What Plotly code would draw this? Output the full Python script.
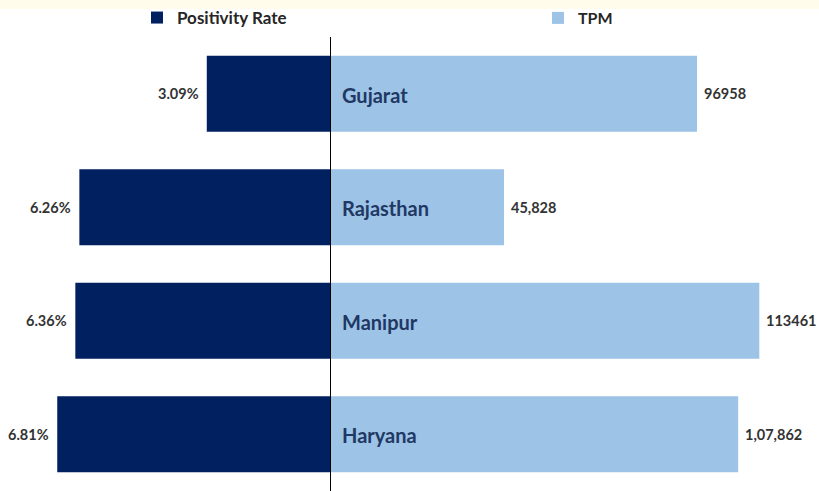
import plotly.graph_objects as go

states = ["Gujarat", "Rajasthan", "Manipur", "Haryana"]
positivity = [3.09, 6.26, 6.36, 6.81]
positivity_labels = ["3.09%", "6.26%", "6.36%", "6.81%"]
tpm = [96958, 45828, 113461, 107862]
tpm_labels = ["96958", "45,828", "113461", "1,07,862"]

W, H = 819, 491
TOP = 37
PH = H - TOP
split = 331 / W

fig = go.Figure()
fig.add_trace(go.Bar(
    y=states, x=positivity, orientation="h", xaxis="x", yaxis="y",
    name="Positivity Rate", marker=dict(color="#002060", line=dict(width=0)),
    width=0.67, hoverinfo="skip", legend="legend",
))
fig.add_trace(go.Bar(
    y=states, x=tpm, orientation="h", xaxis="x2", yaxis="y2",
    name="TPM", marker=dict(color="#9DC3E6", line=dict(width=0)),
    width=0.67, hoverinfo="skip", legend="legend2",
))

val_font = dict(family="Lato", size=14.5, color="#333333", weight="bold")
for s, v, t in zip(states, positivity, positivity_labels):
    fig.add_annotation(x=v, y=s, xref="x", yref="y", text=t, showarrow=False,
                       xanchor="right", xshift=-6, font=val_font)
for s, v, t in zip(states, tpm, tpm_labels):
    fig.add_annotation(x=v, y=s, xref="x2", yref="y2", text=t, showarrow=False,
                       xanchor="left", xshift=5, font=val_font)
for s in states:
    fig.add_annotation(
        x=0, y=s, xref="x2", yref="y2", text=s, showarrow=False,
        xanchor="left", xshift=9, yshift=-1,
        font=dict(family="Lato", size=20, color="#1F3864", weight="bold"),
    )

fig.add_shape(type="rect", xref="paper", yref="paper",
              x0=-0.01, x1=1.01, y0=1 + (TOP - 9) / PH, y1=1 + (TOP + 2) / PH,
              fillcolor="#FFFCEC", line=dict(width=0), layer="below")

leg_font = dict(family="Lato", size=17, color="#262626", weight="bold")
leg_y = 1 + (TOP - 18) / PH
fig.update_layout(
    width=W, height=H,
    margin=dict(l=0, r=0, t=TOP, b=0, autoexpand=False),
    paper_bgcolor="white", plot_bgcolor="white",
    showlegend=True,
    barmode="overlay",
    legend=dict(orientation="h", x=137 / W, y=leg_y, xanchor="left", yanchor="middle",
                itemwidth=30, font=leg_font, bgcolor="rgba(0,0,0,0)"),
    legend2=dict(orientation="h", x=538 / W, y=leg_y, xanchor="left", yanchor="middle",
                 itemwidth=30, font=dict(family="Lato", size=16, color="#262626", weight="bold"),
                 bgcolor="rgba(0,0,0,0)"),
    xaxis=dict(domain=[0, split], range=[331 / 40.2, 0], visible=False, fixedrange=True),
    xaxis2=dict(domain=[split, 1], range=[0, 488 / 0.003775], visible=False, fixedrange=True),
    yaxis=dict(anchor="x", categoryorder="array", categoryarray=states,
               autorange="reversed", showticklabels=False, showgrid=False,
               zeroline=False, showline=False, fixedrange=True),
    yaxis2=dict(anchor="x2", matches="y", showticklabels=False, showgrid=False,
                zeroline=False, showline=True, linecolor="#000000", linewidth=1),
)

fig.write_html("out.html", config={"displayModeBar": False, "staticPlot": True},
               post_script="document.body.style.margin='0';document.body.style.padding='0';")
